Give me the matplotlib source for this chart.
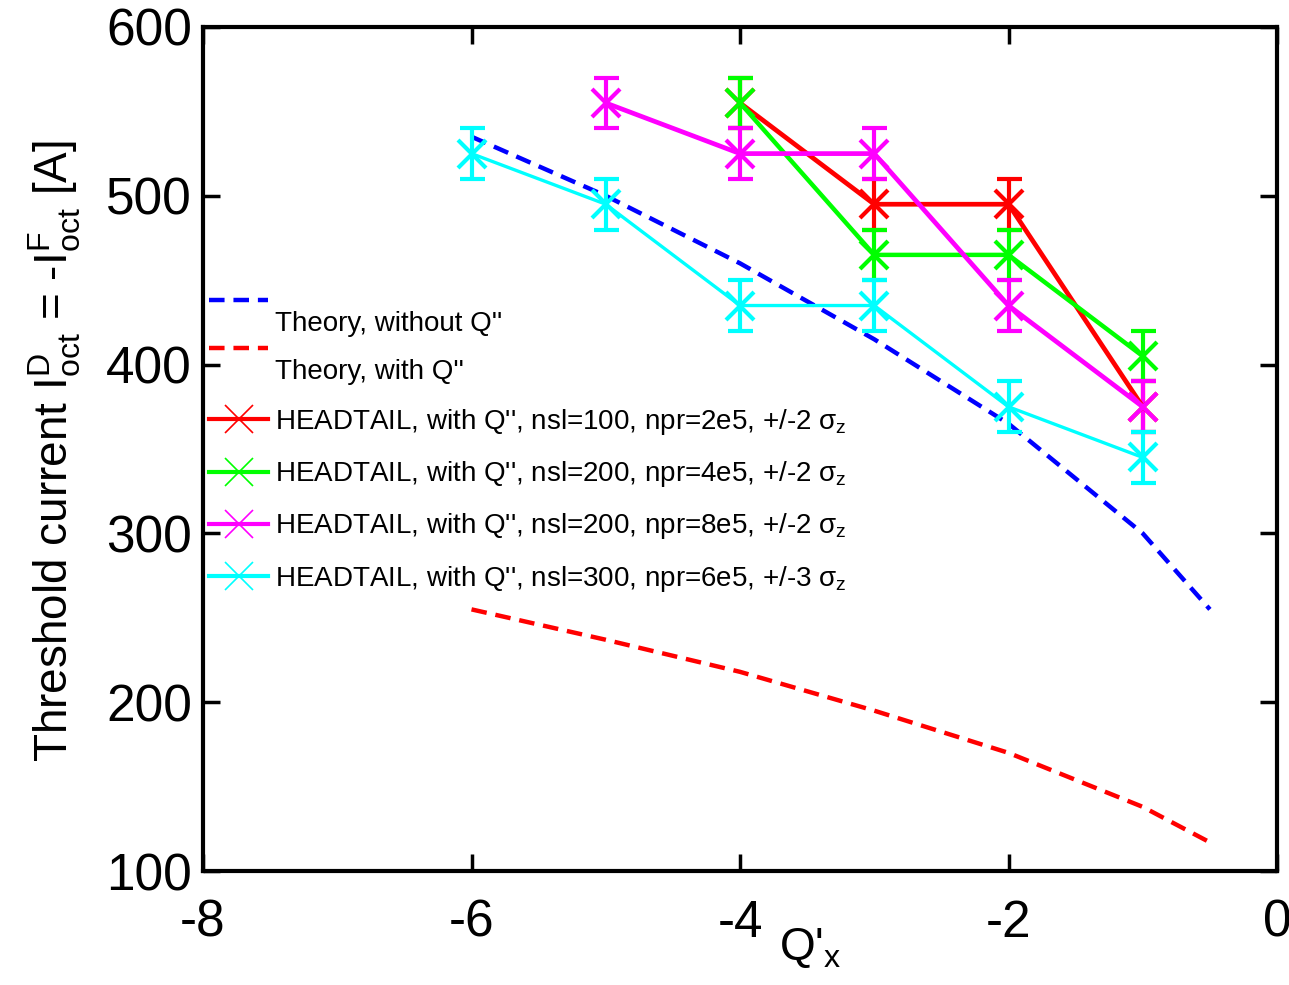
import matplotlib.pyplot as plt
from matplotlib.lines import Line2D
from matplotlib.legend_handler import HandlerLine2D

plt.rcParams['font.family'] = ['Liberation Sans', 'DejaVu Sans']
plt.rcParams['mathtext.fontset'] = 'custom'
plt.rcParams['mathtext.rm'] = 'Liberation Sans'
plt.rcParams['mathtext.it'] = 'Liberation Sans'
plt.rcParams['mathtext.sf'] = 'Liberation Sans'
plt.rcParams['axes.unicode_minus'] = False

# theory curves
theo_x = [-6, -5, -4, -3, -2, -1, -0.5]
theo_noQ2 = [535, 500, 460, 415, 365, 300, 255]
theo_Q2 = [255, 237, 218, 195, 170, 138, 117]

# HEADTAIL results (error +/-15)
red_x = [-4, -3, -2, -1]
red_y = [555, 495, 495, 375]
green_x = [-4, -3, -2, -1]
green_y = [555, 465, 465, 405]
mag_x = [-5, -4, -3, -2, -1]
mag_y = [555, 525, 525, 435, 375]
cyan_x = [-6, -5, -4, -3, -2, -1]
cyan_y = [525, 495, 435, 435, 375, 345]
err = 15


class RaisedLine(HandlerLine2D):
    # matlab puts the theory line a bit above its text
    def create_artists(self, legend, orig_handle, xdescent, ydescent,
                       width, height, fontsize, trans):
        arts = super().create_artists(legend, orig_handle, xdescent, ydescent,
                                      width, height, fontsize, trans)
        for a in arts:
            a.set_ydata([y + 0.75 * fontsize for y in a.get_ydata()])
        return arts


fig = plt.figure(figsize=(12.89, 9.85), dpi=100)
ax = fig.add_axes([0.1575, 0.1157, 0.8332, 0.8569])

h1, = ax.plot(theo_x, theo_noQ2, '--', color='#0000ff', lw=3.2, dashes=(3.5, 2))
h2, = ax.plot(theo_x, theo_Q2, '--', color='#ff0000', lw=3.2, dashes=(3.5, 2))

series = [
    (red_x, red_y, '#ff0000', 3.4, "HEADTAIL, with Q'', nsl=100, npr=2e5, +/-2 $\\sigma_{\\rm z}$"),
    (green_x, green_y, '#00ff00', 3.2, "HEADTAIL, with Q'', nsl=200, npr=4e5, +/-2 $\\sigma_{\\rm z}$"),
    (mag_x, mag_y, '#ff00ff', 3.4, "HEADTAIL, with Q'', nsl=200, npr=8e5, +/-2 $\\sigma_{\\rm z}$"),
    (cyan_x, cyan_y, '#00ffff', 2.4, "HEADTAIL, with Q'', nsl=300, npr=6e5, +/-3 $\\sigma_{\\rm z}$"),
]
handles = [h1, h2]
labels = ["Theory, without Q''", "Theory, with Q''"]
for x, y, c, lw, lab in series:
    ax.errorbar(x, y, yerr=err, color=c, lw=lw, marker='x', ms=20, mew=3,
                capsize=9, capthick=3, elinewidth=3)
    handles.append(Line2D([], [], color=c, lw=3, marker='x', ms=20, mew=1.2))
    labels.append(lab)

ax.set_xlim(-8, 0)
ax.set_ylim(100, 600)
ax.set_xticks([-8, -6, -4, -2, 0])
ax.set_yticks([100, 200, 300, 400, 500, 600])
ax.tick_params(direction='in', length=12, width=2.5, labelsize=37,
               top=True, right=True)
ax.tick_params(axis='x', pad=20)
ax.tick_params(axis='y', pad=8)
for s in ax.spines.values():
    s.set_linewidth(3)

ax.set_xlabel("Q'$_{\\rm x}$", fontsize=33)
ax.xaxis.set_label_coords(0.565, -0.065)
ax.set_ylabel("Threshold current I$^{\\rm D}_{\\rm oct}$ = -I$^{\\rm F}_{\\rm oct}$ [A]",
              fontsize=33)
ax.yaxis.set_label_coords(-0.112, 0.497)

ax.legend(handles, labels, loc='upper left', bbox_to_anchor=(0.006, 0.664),
          frameon=False, fontsize=20, handlelength=2.1, handletextpad=0.25,
          labelspacing=0.8, borderaxespad=0, borderpad=0,
          handler_map={h1: RaisedLine(), h2: RaisedLine()})

fig.savefig('out.png', dpi=100)
